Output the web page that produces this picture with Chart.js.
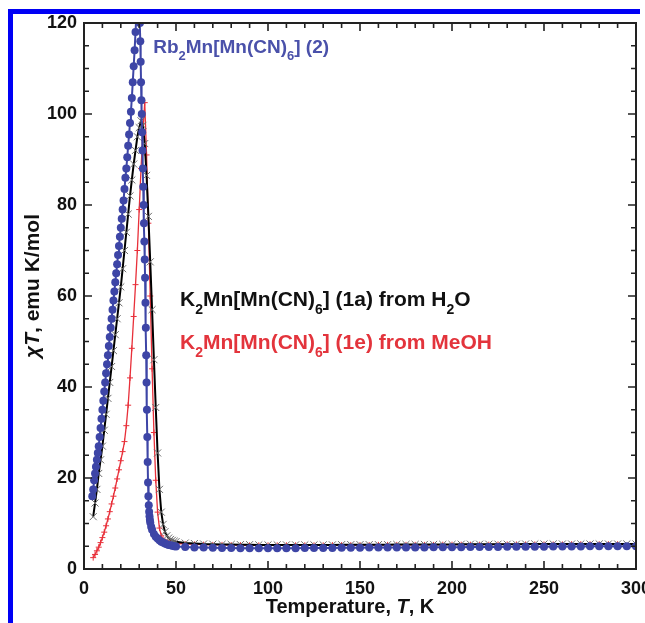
<!DOCTYPE html>
<html>
<head>
<meta charset="utf-8">
<script src="https://cdn.jsdelivr.net/npm/chart.js@4.4.1/dist/chart.umd.min.js"></script>
<style>
html,body{margin:0;padding:0;background:#fff;overflow:hidden}
#wrap{position:absolute;left:0;top:0;width:645px;height:623px}
.edge{position:absolute;background:#0000f5}
</style>
</head>
<body>
<div id="wrap"><canvas id="c"></canvas></div>
<div class="edge" style="left:8px;top:9px;width:632px;height:5px"></div>
<div class="edge" style="left:8px;top:9px;width:5px;height:614px"></div>
<script>
// Rb2Mn[Mn(CN)6] (2)
const RB_T=[4.5,5,5.5,6,6.5,7,7.5,8,8.5,9,9.5,10,10.5,11,11.5,12,12.5,13,13.5,14,14.5,15,15.5,16,16.5,17,17.5,18,18.5,19,19.5,20,20.5,21,21.5,22,22.5,23,23.5,24,24.5,25,25.5,26,26.5,27,27.5,28,28.5,29,29.5,
  30,30.2,30.4,30.6,30.8,31,31.2,31.4,31.6,31.8,32,32.2,32.4,32.6,32.8,33,33.2,33.4,33.6,33.8,34,34.2,34.4,34.6,34.8,35,35.2,35.4,35.6,35.8,36,36.5,37,38,39,40,41,42,43,44,45,46,47,48,49,50,
  55,60,65,70,75,80,85,90,95,100,105,110,115,120,125,130,135,140,145,150,155,160,165,170,175,180,185,190,195,200,205,210,215,220,225,230,235,240,245,250,255,260,265,270,275,280,285,290,295,300]
const RB_V=[16,17.5,19.5,21,22.5,24,25.5,27,29,31,33,35,37,39,41,43,45,47,49,51,53,55,57,59,61,63,65,67,69,71,73,75,77,79,81,83.5,86,88,90.5,93,95.5,98,100.5,103.5,107,110.5,114,118,122,125.5,127,
  126,123.5,120,116,111.5,107,103,100,96,92,88,84,80,76,72,68,64,58.5,53,47,41,35,29,23.5,19,16,14,12.6,11.6,10.8,10.2,9.3,8.6,7.7,7.1,6.7,6.3,6,5.8,5.6,5.45,5.3,5.2,5.1,5,4.95,
  4.85,4.75,4.7,4.65,4.6,4.6,4.55,4.55,4.55,4.55,4.55,4.55,4.55,4.6,4.6,4.6,4.6,4.65,4.65,4.65,4.7,4.7,4.7,4.7,4.75,4.75,4.75,4.8,4.8,4.8,4.8,4.85,4.85,4.85,4.85,4.9,4.9,4.9,4.9,4.9,4.95,4.95,4.95,4.95,5,5,5,5,5,5]

// K2Mn[Mn(CN)6] (1a) from H2O and (1e) from MeOH share the temperature grid
const K_T=[5,6,7,8,9,10,11,12,13,14,15,16,17,18,19,20,21,22,23,24,25,26,27,28,29,30,31,32,33,34,35,36,37,38,39,40,41,42,43,44,45,46,47,48,49,50,
  55,60,65,70,75,80,85,90,95,100,105,110,115,120,125,130,135,140,145,150,155,160,165,170,175,180,185,190,195,200,205,210,215,220,225,230,235,240,245,250,255,260,265,270,275,280,285,290,295,300]
const K1A_V=[11.5,14.5,17.5,21,24,27,30.5,34,37.5,41,44.5,48,51.5,55,58.5,62,66,70,74,78,82,85.5,89,92,95,97,98.5,97.5,93.5,86.5,77.5,67.5,57,46,35.5,25.5,17.5,12.5,9.8,8.2,7.3,6.8,6.5,6.3,6.1,6,
  5.7,5.6,5.5,5.45,5.4,5.4,5.35,5.35,5.3,5.3,5.3,5.3,5.3,5.3,5.3,5.3,5.3,5.35,5.35,5.35,5.35,5.35,5.35,5.4,5.4,5.4,5.4,5.4,5.4,5.4,5.45,5.45,5.45,5.45,5.45,5.45,5.45,5.5,5.5,5.5,5.5,5.5,5.5,5.5,5.5,5.5,5.5,5.5,5.5,5.5]
const K1E_V=[2.5,3.2,4,4.8,5.8,6.9,8.1,9.5,11,12.6,14.3,16,17.8,19.8,21.8,23.8,25.8,28,31.5,36,42,48.5,55.5,62.5,70,79,88,96,102.5,91,76,60,44,30,19.5,12.5,9,7.3,6.5,6.1,5.9,5.8,5.7,5.65,5.6,5.6,
  5.5,5.4,5.35,5.3,5.3,5.25,5.25,5.2,5.2,5.2,5.2,5.2,5.2,5.2,5.2,5.2,5.25,5.25,5.25,5.25,5.25,5.3,5.3,5.3,5.3,5.3,5.3,5.3,5.35,5.35,5.35,5.35,5.35,5.35,5.4,5.4,5.4,5.4,5.4,5.4,5.4,5.4,5.45,5.45,5.45,5.45,5.45,5.45]

const X_TICKS=[0,50,100,150,200,250,300]
const Y_TICKS=[0,20,40,60,80,100,120]

const LBL_RB=[['Rb',''],['2','s'],['Mn[Mn(CN)',''],['6','s'],['] (2)','']]
const LBL_1A=[['K',''],['2','s'],['Mn[Mn(CN)',''],['6','s'],['] (1a) from H',''],['2','s'],['O','']]
const LBL_1E=[['K',''],['2','s'],['Mn[Mn(CN)',''],['6','s'],['] (1e) from MeOH','']]
const X_TITLE=[['Temperature, ',''],['T','i'],[', K','']]
const Y_TITLE=[['\u03C7T','i'],[', emu K/mol','']]

const FAM='"Liberation Sans", Arial, Helvetica, sans-serif'
const pts=(xs,ys)=>xs.map((x,i)=>({x,y:ys[i]}))

function rich(ctx,parts,x,y,size,draw){
  let cx=x
  for(const [t,s] of parts){
    const sub=s==='s'
    ctx.font=(s==='i'?'italic ':'')+'bold '+(sub?Math.round(size*0.66):size)+'px '+FAM
    if(draw) ctx.fillText(t,cx,sub?y+size*0.36:y)
    cx+=ctx.measureText(t).width
  }
  return cx-x
}

const deco={id:'deco',afterDatasetsDraw(c){
  const {ctx,chartArea:a,scales:{x,y}}=c
  ctx.save()
  ctx.strokeStyle='#222';ctx.lineWidth=2
  ctx.strokeRect(a.left,a.top,a.right-a.left,a.bottom-a.top)
  ctx.lineWidth=1.6
  ctx.beginPath()
  for(let v=10;v<300;v+=10){
    const p=x.getPixelForValue(v),l=v%50?5:8
    ctx.moveTo(p,a.bottom);ctx.lineTo(p,a.bottom-l)
    ctx.moveTo(p,a.top);ctx.lineTo(p,a.top+l)
  }
  for(let v=5;v<120;v+=5){
    const p=y.getPixelForValue(v),l=v%20?5:8
    ctx.moveTo(a.left,p);ctx.lineTo(a.left+l,p)
    ctx.moveTo(a.right,p);ctx.lineTo(a.right-l,p)
  }
  ctx.stroke()
  ctx.textBaseline='alphabetic';ctx.textAlign='left'
  ctx.fillStyle='#4a51aa'
  rich(ctx,LBL_RB,x.getPixelForValue(37.6),y.getPixelForValue(113.3),19,true)
  ctx.fillStyle='#111'
  rich(ctx,LBL_1A,x.getPixelForValue(52.2),y.getPixelForValue(57.8),21,true)
  ctx.fillStyle='#e3343c'
  rich(ctx,LBL_1E,x.getPixelForValue(52.2),y.getPixelForValue(48.3),21,true)
  // axis titles
  ctx.fillStyle='#111'
  const wx=rich(ctx,X_TITLE,0,0,20,false)
  rich(ctx,X_TITLE,350-wx/2,613,20,true)
  const wy=rich(ctx,Y_TITLE,0,0,21,false)
  ctx.translate(39,286);ctx.rotate(-Math.PI/2)
  rich(ctx,Y_TITLE,-wy/2,0,21,true)
  ctx.restore()
}}

const tickFont={family:FAM,weight:'bold',size:18}
new Chart(document.getElementById('c'),{
  type:'line',
  data:{datasets:[
    {label:'Rb2Mn[Mn(CN)6] (2)',data:pts(RB_T,RB_V),borderColor:'#3d45a6',backgroundColor:'#3d45a6',borderWidth:2,
      pointStyle:'circle',pointRadius:4,pointBorderWidth:0,tension:0},
    {label:'K2Mn[Mn(CN)6] (1a) from H2O',data:pts(K_T,K1A_V),borderColor:'#000',borderWidth:2,
      pointStyle:'crossRot',pointRadius:5,pointBorderColor:'#6b6b6b',pointBorderWidth:1,tension:0},
    {label:'K2Mn[Mn(CN)6] (1e) from MeOH',data:pts(K_T,K1E_V),borderColor:'#e8303a',borderWidth:1.3,
      pointStyle:'cross',pointRadius:3,pointBorderColor:'#e8303a',pointBorderWidth:1,tension:0}
  ]},
  options:{
    responsive:true,maintainAspectRatio:false,animation:false,
    layout:{padding:{left:0,top:23,right:9,bottom:0}},
    plugins:{legend:{display:false},tooltip:{enabled:false}},
    scales:{
      x:{type:'linear',min:0,max:300,
        afterBuildTicks:s=>{s.ticks=X_TICKS.map(v=>({value:v}))},
        afterFit:s=>{s.height=54;s.paddingLeft=0;s.paddingRight=0},
        grid:{display:false,drawTicks:false},border:{display:false},
        ticks:{color:'#111',font:tickFont,padding:9,maxRotation:0,autoSkip:false}},
      y:{type:'linear',min:0,max:120,
        afterBuildTicks:s=>{s.ticks=Y_TICKS.map(v=>({value:v}))},
        afterFit:s=>{s.width=84;s.paddingTop=0;s.paddingBottom=0},
        grid:{display:false,drawTicks:false},border:{display:false},
        ticks:{color:'#111',font:tickFont,padding:7}}
    }
  },
  plugins:[deco]
})
</script>
</body>
</html>
